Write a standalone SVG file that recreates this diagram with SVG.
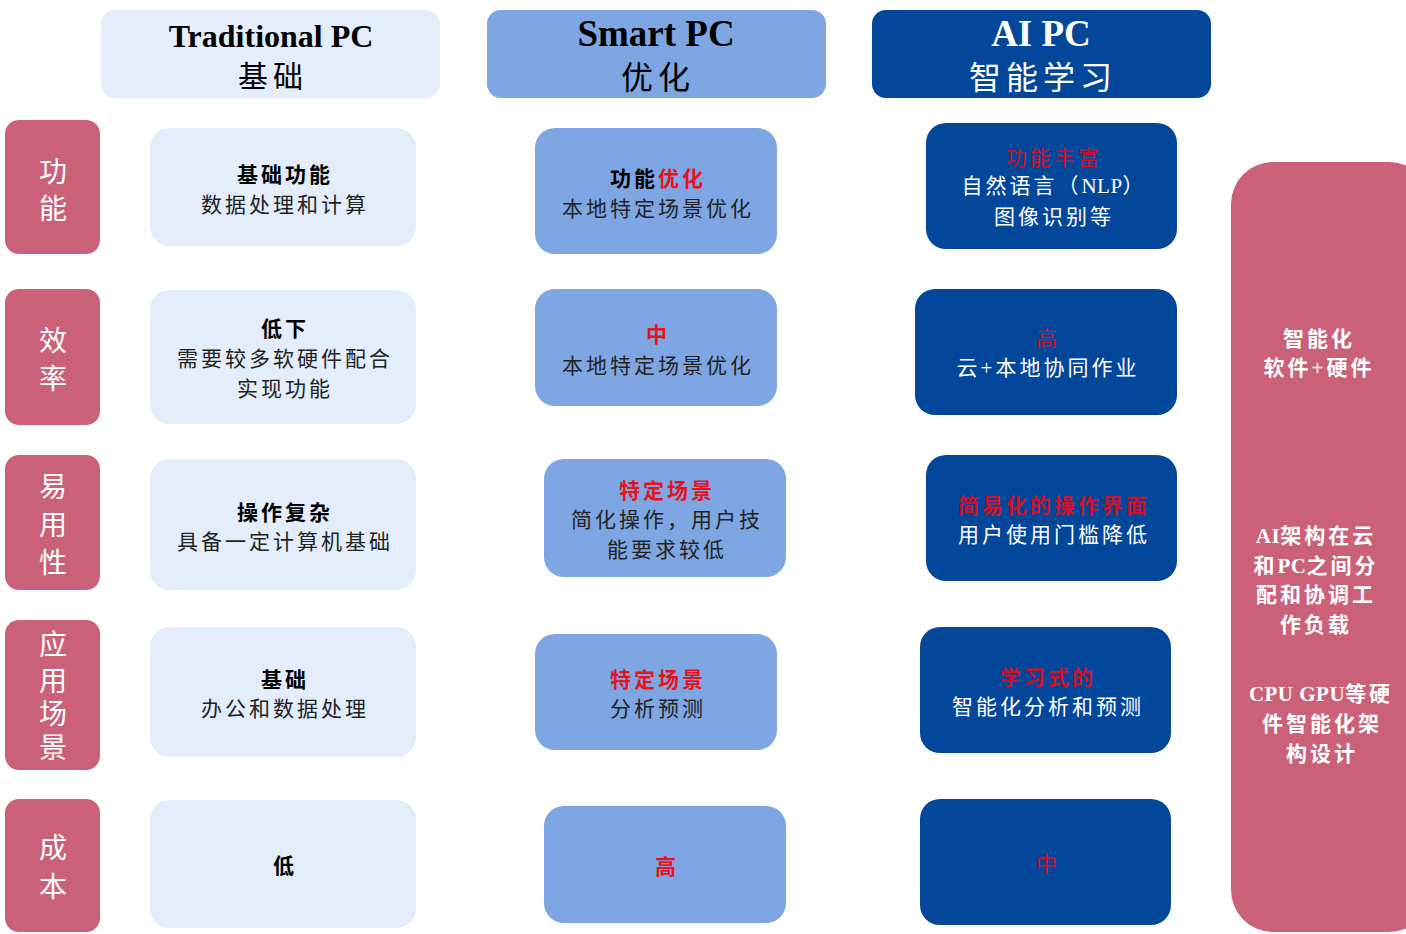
<svg xmlns="http://www.w3.org/2000/svg" width="1406" height="934" viewBox="0 0 1406 934">
  <style>
    .light { fill: #E3EDFB; }
    .mid { fill: #7EA6E2; }
    .dark { fill: #03479B; }
    .pink { fill: #CB6179; }
    text { font-family: "Liberation Serif", "Noto Sans CJK SC", serif; text-anchor: middle; dominant-baseline: central; }
    .head { font-size: 32px; font-weight: bold; }
    .headl { font-size: 37px; font-weight: bold; }
    .headcn { font-size: 30px; letter-spacing: 5px; }
    .headcnl { font-size: 32px; letter-spacing: 5px; }
    .side { font-size: 28px; fill: #ffffff; }
    .t { font-size: 21px; letter-spacing: 3px; fill: #222222; }
    .b { font-weight: bold; fill: #000000; }
    .w { fill: #ffffff; }
    .r { fill: #E8121C; font-weight: bold; }
    .rd { fill: #D0102A; }
    .rp { font-size: 21px; letter-spacing: 3px; fill: #ffffff; font-weight: bold; }
    .ls0 { letter-spacing: 0.5px; }
  </style>

  <!-- column headers -->
  <g id="head-traditional">
    <rect class="light" x="101" y="10" width="339" height="88" rx="14"/>
    <text class="head" x="271" y="36">Traditional PC</text>
    <text class="headcn" x="273" y="76">基础</text>
  </g>
  <g id="head-smart">
    <rect class="mid" x="487" y="10" width="339" height="88" rx="14"/>
    <text class="headl" x="656" y="33">Smart PC</text>
    <text class="headcnl" x="658" y="78">优化</text>
  </g>
  <g id="head-ai">
    <rect class="dark" x="872" y="10" width="339" height="88" rx="14"/>
    <text class="headl w" x="1041" y="33">AI PC</text>
    <text class="headcnl w" x="1043" y="78">智能学习</text>
  </g>

  <!-- row labels -->
  <g id="label-function">
    <rect class="pink" x="5" y="120" width="95" height="134" rx="14"/>
    <text class="side" x="53" y="172">功</text>
    <text class="side" x="53" y="209">能</text>
  </g>
  <g id="label-efficiency">
    <rect class="pink" x="5" y="289" width="95" height="136" rx="14"/>
    <text class="side" x="53" y="341">效</text>
    <text class="side" x="53" y="379">率</text>
  </g>
  <g id="label-usability">
    <rect class="pink" x="5" y="455" width="95" height="135" rx="14"/>
    <text class="side" x="53" y="487">易</text>
    <text class="side" x="53" y="525">用</text>
    <text class="side" x="53" y="563">性</text>
  </g>
  <g id="label-scenario">
    <rect class="pink" x="5" y="620" width="95" height="150" rx="14"/>
    <text class="side" x="53" y="645">应</text>
    <text class="side" x="53" y="681">用</text>
    <text class="side" x="53" y="714">场</text>
    <text class="side" x="53" y="748">景</text>
  </g>
  <g id="label-cost">
    <rect class="pink" x="5" y="799" width="95" height="133" rx="14"/>
    <text class="side" x="53" y="848">成</text>
    <text class="side" x="53" y="887">本</text>
  </g>

  <!-- Traditional PC column -->
  <g id="trad-function">
    <rect class="light" x="150" y="128" width="266" height="118" rx="20"/>
    <text class="t b" x="285" y="175">基础功能</text>
    <text class="t" x="285" y="205">数据处理和计算</text>
  </g>
  <g id="trad-efficiency">
    <rect class="light" x="150" y="290" width="266" height="134" rx="20"/>
    <text class="t b" x="285" y="329">低下</text>
    <text class="t" x="285" y="359">需要较多软硬件配合</text>
    <text class="t" x="285" y="389">实现功能</text>
  </g>
  <g id="trad-usability">
    <rect class="light" x="150" y="459" width="266" height="131" rx="20"/>
    <text class="t b" x="285" y="513">操作复杂</text>
    <text class="t" x="285" y="542">具备一定计算机基础</text>
  </g>
  <g id="trad-scenario">
    <rect class="light" x="150" y="627" width="266" height="130" rx="20"/>
    <text class="t b" x="285" y="680">基础</text>
    <text class="t" x="285" y="709">办公和数据处理</text>
  </g>
  <g id="trad-cost">
    <rect class="light" x="150" y="800" width="266" height="128" rx="20"/>
    <text class="t b" x="285" y="866">低</text>
  </g>

  <!-- Smart PC column -->
  <g id="smart-function">
    <rect class="mid" x="535" y="128" width="242" height="126" rx="20"/>
    <text class="t b" x="658" y="179">功能<tspan class="r">优化</tspan></text>
    <text class="t" x="658" y="209">本地特定场景优化</text>
  </g>
  <g id="smart-efficiency">
    <rect class="mid" x="535" y="289" width="242" height="117" rx="20"/>
    <text class="t r" x="658" y="335">中</text>
    <text class="t" x="658" y="366">本地特定场景优化</text>
  </g>
  <g id="smart-usability">
    <rect class="mid" x="544" y="459" width="242" height="118" rx="20"/>
    <text class="t r" x="667" y="491">特定场景</text>
    <text class="t" x="667" y="520">简化操作，用户技</text>
    <text class="t" x="667" y="550">能要求较低</text>
  </g>
  <g id="smart-scenario">
    <rect class="mid" x="535" y="634" width="242" height="116" rx="20"/>
    <text class="t r" x="658" y="680">特定场景</text>
    <text class="t" x="658" y="709">分析预测</text>
  </g>
  <g id="smart-cost">
    <rect class="mid" x="544" y="806" width="242" height="117" rx="20"/>
    <text class="t r" x="667" y="867">高</text>
  </g>

  <!-- AI PC column -->
  <g id="ai-function">
    <rect class="dark" x="926" y="123" width="251" height="126" rx="20"/>
    <text class="t rd" x="1054" y="158">功能丰富</text>
    <text class="t w" x="1054" y="186">自然语言（<tspan class="ls0">NLP</tspan>）</text>
    <text class="t w" x="1054" y="217">图像识别等</text>
  </g>
  <g id="ai-efficiency">
    <rect class="dark" x="915" y="289" width="262" height="126" rx="20"/>
    <text class="t rd" x="1048" y="339">高</text>
    <text class="t w" x="1048" y="368">云+本地协同作业</text>
  </g>
  <g id="ai-usability">
    <rect class="dark" x="926" y="455" width="251" height="126" rx="20"/>
    <text class="t rd b" x="1054" y="506">简易化的操作界面</text>
    <text class="t w" x="1054" y="535">用户使用门槛降低</text>
  </g>
  <g id="ai-scenario">
    <rect class="dark" x="920" y="627" width="251" height="126" rx="20"/>
    <text class="t rd b" x="1048" y="678">学习式的</text>
    <text class="t w" x="1048" y="707">智能化分析和预测</text>
  </g>
  <g id="ai-cost">
    <rect class="dark" x="920" y="799" width="251" height="126" rx="20"/>
    <text class="t rd" x="1048" y="864">中</text>
  </g>

  <!-- summary panel -->
  <g id="summary">
    <rect class="pink" x="1231" y="162" width="200" height="770" rx="42"/>
    <text class="rp" x="1319" y="339">智能化</text>
    <text class="rp" x="1319" y="368">软件+硬件</text>
    <text class="rp" x="1316" y="536"><tspan class="ls0">AI</tspan>架构在云</text>
    <text class="rp" x="1316" y="566">和<tspan class="ls0">PC</tspan>之间分</text>
    <text class="rp" x="1316" y="595">配和协调工</text>
    <text class="rp" x="1316" y="625">作负载</text>
    <text class="rp" x="1321" y="694"><tspan class="ls0">CPU  GPU</tspan>等硬</text>
    <text class="rp" x="1322" y="724">件智能化架</text>
    <text class="rp" x="1322" y="754">构设计</text>
  </g>

  <!-- no connectors in this chart -->
  <g id="connectors"/>
</svg>
